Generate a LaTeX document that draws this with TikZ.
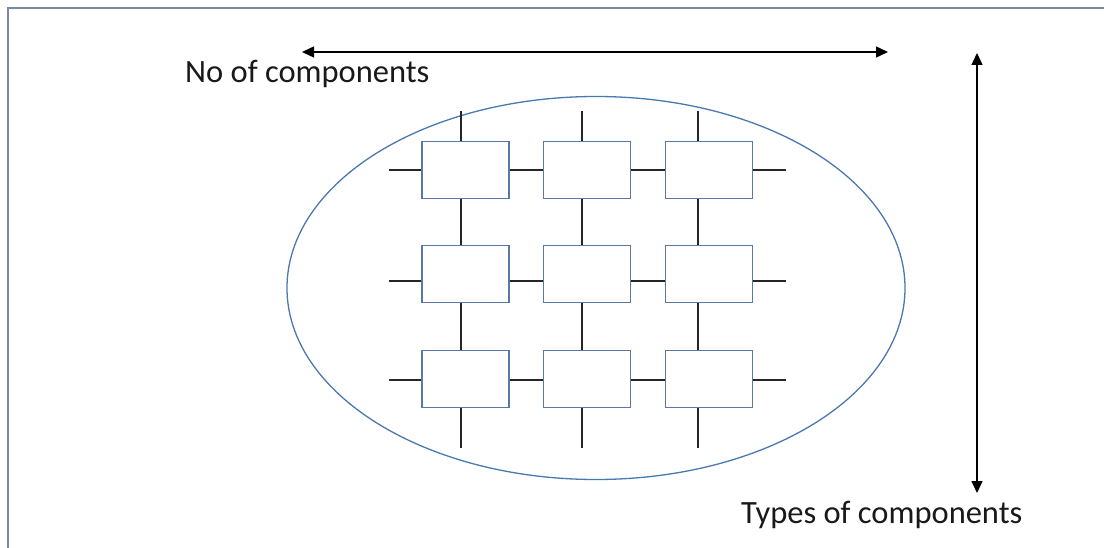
\documentclass[tikz,border=0pt]{standalone}
\usepackage{fontspec}
\setmainfont{Carlito}
\usetikzlibrary{arrows.meta,positioning,shapes.geometric}
\definecolor{boxblue}{HTML}{5A78A6}
\definecolor{ringblue}{HTML}{4A78B0}
\definecolor{framegray}{HTML}{7A88A0}
\tikzset{
  fx/.style={x=1pt, y=-1pt},
  g box/.style={draw=boxblue, line width=1.2pt, fill=white, minimum width=87pt, minimum height=57pt, inner sep=0pt},
  g ring/.style={draw=ringblue, line width=1.3pt, ellipse, minimum width=618pt, minimum height=383pt, inner sep=0pt},
  g wire/.style={line width=1.4pt, black!85},
  g arr/.style={{Triangle[length=12pt,width=11pt]}-{Triangle[length=12pt,width=11pt]}, line width=1.4pt},
  g label/.style={font=\fontsize{32.5}{38}\selectfont, anchor=base west, inner sep=0pt, text=black!90},
  g frame/.style={draw=framegray, line width=1.5pt},
}

\begin{document}
\begin{tikzpicture}[fx]
\useasboundingbox (0,0) rectangle (1104,548);
\clip (0,0) rectangle (1104,548);
\draw[g frame] (8,600) -- (8,8) -- (1200,8);
\node[g ring] (ring) at (596,288) {};
% grid of components
\node[g box] (b11) at (465.5,170) {}; \node[g box] (b12) at (587,170) {}; \node[g box] (b13) at (709,170) {};
\node[g box] (b21) at (465.5,274) {}; \node[g box] (b22) at (587,274) {}; \node[g box] (b23) at (709,274) {};
\node[g box] (b31) at (465.5,379) {}; \node[g box] (b32) at (587,379) {}; \node[g box] (b33) at (709,379) {};
\coordinate (c1) at (461,0); \coordinate (c2) at (582,0); \coordinate (c3) at (698,0);
\coordinate (r1) at (0,170); \coordinate (r2) at (0,281); \coordinate (r3) at (0,380);
\foreach \j in {1,2,3} {
  \draw[g wire] (b1\j.north -| c\j) -- ++(0,-30);
  \draw[g wire] (b1\j.south -| c\j) -- (b2\j.north -| c\j);
  \draw[g wire] (b2\j.south -| c\j) -- (b3\j.north -| c\j);
  \draw[g wire] (b3\j.south -| c\j) -- ++(0,40);
}
\foreach \i in {1,2,3} {
  \draw[g wire] (b\i1.west |- r\i) -- ++(-32,0);
  \draw[g wire] (b\i1.east |- r\i) -- (b\i2.west |- r\i);
  \draw[g wire] (b\i2.east |- r\i) -- (b\i3.west |- r\i);
  \draw[g wire] (b\i3.east |- r\i) -- ++(33,0);
}
% axes
\coordinate (h0) at (302,52); \coordinate (h1) at (888,52);
\coordinate (v0) at (977,53); \coordinate (v1) at (977,493);
\draw[g arr] (h0) -- (h1);
\draw[g arr] (v0) -- (v1);
\node[g label] (nlab) at (185,83) {No of components};
\node[g label] (tlab) at (741,523) {Types of components};
\end{tikzpicture}
\end{document}
